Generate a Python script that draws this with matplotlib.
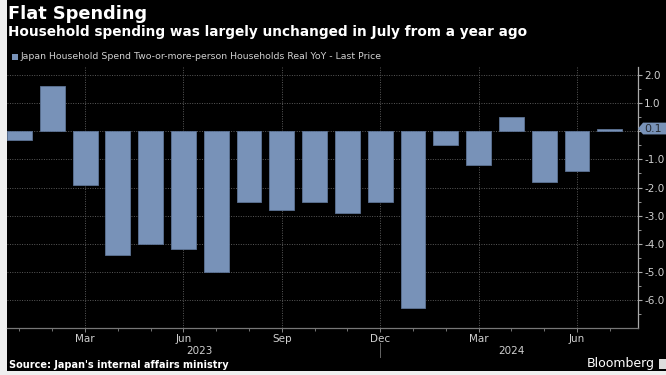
import matplotlib
matplotlib.use('Agg')
import matplotlib.pyplot as plt
import matplotlib.transforms as mtransforms
from matplotlib.patches import Rectangle, Polygon
import numpy as np

# Monthly household spending, real YoY %, Jan 2023 - Jul 2024
months = ['Jan', 'Feb', 'Mar', 'Apr', 'May', 'Jun', 'Jul', 'Aug', 'Sep', 'Oct', 'Nov', 'Dec',
          'Jan', 'Feb', 'Mar', 'Apr', 'May', 'Jun', 'Jul']
years = [2023] * 12 + [2024] * 7
yoy = [-0.3, 1.6, -1.9, -4.4, -4.0, -4.2, -5.0, -2.5, -2.8, -2.5, -2.9, -2.5,
       -6.3, -0.5, -1.2, 0.5, -1.8, -1.4, 0.1]
y_ticks = [2.0, 1.0, 0.0, -1.0, -2.0, -3.0, -4.0, -5.0, -6.0]

BAR = '#7892b8'
TXT = '#d0d0d0'
W, H = 666, 375

fig = plt.figure(figsize=(W / 100, H / 100), dpi=100, facecolor='black')
# light frame strips on the left and bottom
fig.patches.append(Rectangle((0, 0), 7 / W, 1, transform=fig.transFigure,
                             facecolor='#efefef', edgecolor='none', zorder=-10))
fig.patches.append(Rectangle((0, 0), 1, 4 / H, transform=fig.transFigure,
                             facecolor='#efefef', edgecolor='none', zorder=-10))

ax = fig.add_axes([7 / W, 1 - 328 / H, 631 / W, 261 / H])
ax.set_facecolor('black')

x = np.arange(len(yoy))
ax.bar(x, yoy, width=0.76, color=BAR, edgecolor='#5d7395', linewidth=0.6, zorder=3)

ax.set_xlim(-0.38, 18.86)
ax.set_ylim(-7.0, 2.29)

# y axis on the right
ax.yaxis.tick_right()
ax.set_yticks(y_ticks)
ax.set_yticklabels(['' if v == 0 else f'{v:.1f}' for v in y_ticks])
ax.set_yticks(np.arange(-6.5, 2.3, 1.0), minor=True)
ax.tick_params(axis='y', which='major', length=3, width=0.8, color='#aaaaaa',
               labelcolor=TXT, labelsize=7.5, pad=1.5)
ax.tick_params(axis='y', which='minor', length=2, width=0.6, color='#aaaaaa')

# x axis: quarterly labels, monthly minor ticks
quarter = [i for i, m in enumerate(months) if m in ('Mar', 'Jun', 'Sep', 'Dec')]
ax.set_xticks(quarter)
ax.set_xticklabels([months[i] for i in quarter])
ax.set_xticks(x, minor=True)
ax.tick_params(axis='x', which='major', length=3, width=0.7, color='#888888',
               labelcolor=TXT, labelsize=7.5, pad=1)
ax.tick_params(axis='x', which='minor', length=2, width=0.6, color='#888888')

for s in ('top', 'left'):
    ax.spines[s].set_visible(False)
ax.spines['right'].set_color('#aaaaaa')
ax.spines['bottom'].set_color('#777777')
ax.spines['right'].set_linewidth(0.9)
ax.spines['bottom'].set_linewidth(0.9)

ax.grid(True, which='major', color='#5a5a5a', linestyle=(0, (1, 1.5)), linewidth=0.7, zorder=0)

# year labels under the month labels
xlab = mtransforms.blended_transform_factory(ax.transData, fig.transFigure)
for yr in sorted(set(years)):
    idx = [i for i, y in enumerate(years) if y == yr]
    mid = (idx[0] + idx[-1]) / 2 if yr == 2023 else 15.0
    ax.text(mid, 1 - 351 / H, str(yr), transform=xlab, ha='center', va='center',
            color=TXT, fontsize=7.5)
ax.plot([11, 11], [1 - 343 / H, 1 - 357 / H], transform=xlab, color='#666666',
        linewidth=0.7, clip_on=False)

# last value tag on the right axis
last = yoy[-1]
tr = mtransforms.blended_transform_factory(ax.transAxes, ax.transData)
tag = Polygon([(1.0, last), (1.008, last + 0.21), (1.08, last + 0.21),
               (1.08, last - 0.21), (1.008, last - 0.21)],
              closed=True, transform=tr, facecolor=BAR, edgecolor='none',
              clip_on=False, zorder=5)
ax.add_patch(tag)
ax.text(1.01, last - 0.01, f'{last:.1f}', transform=tr, ha='left', va='center',
        color='#262b33', fontsize=8, clip_on=False, zorder=6)

# header
fig.text(8 / W, 1 - 14 / H, 'Flat Spending', color='white', fontsize=12.8,
         fontweight='bold', ha='left', va='center')
fig.text(8 / W, 1 - 32 / H, 'Household spending was largely unchanged in July from a year ago',
         color='white', fontsize=9.8, fontweight='bold', ha='left', va='center')
fig.patches.append(Rectangle((12 / W, 1 - 60 / H), 6 / W, 6 / H, transform=fig.transFigure,
                             facecolor=BAR, edgecolor='none'))
fig.text(21 / W, 1 - 56.5 / H,
         'Japan Household Spend Two-or-more-person Households Real YoY - Last Price',
         color=TXT, fontsize=6.75, ha='left', va='center')

# footer
fig.text(9 / W, 1 - 365 / H, "Source: Japan's internal affairs ministry", color='white',
         fontsize=7, fontweight='bold', ha='left', va='center')
fig.text(655 / W, 1 - 364 / H, 'Bloomberg', color='white', fontsize=9,
         ha='right', va='center')
fig.patches.append(Rectangle((659 / W, 1 - 369 / H), 8 / W, 10 / H, transform=fig.transFigure,
                             facecolor='#dddddd', edgecolor='none'))

fig.savefig('out.png', dpi=100, facecolor=fig.get_facecolor())
